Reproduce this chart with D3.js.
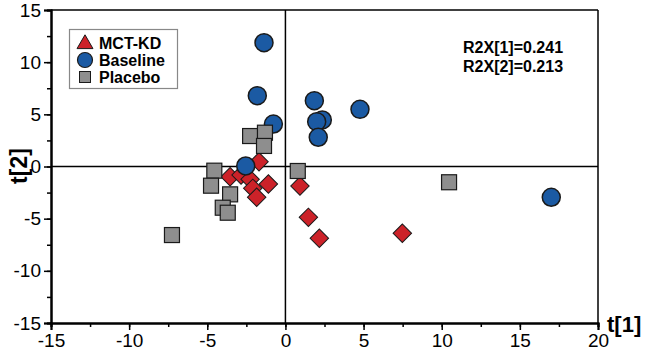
<!DOCTYPE html>
<html>
<head>
<meta charset="utf-8">
<script src="https://cdn.jsdelivr.net/npm/d3@7"></script>
<style>
  body { margin: 0; background: #fff; }
  svg { font-family: Arial, "Liberation Sans", sans-serif; }
</style>
</head>
<body>
<div id="okvir"></div>
<script>
// podaci ocitani sa slike (t[1], t[2])
const mctX = [-1.69, -3.54, -2.84, -2.26, -2.09, -1.84, -1.09, 0.93, 1.47, 2.17, 7.48]
const mctY = [0.46, -0.98, -0.81, -1.23, -2.09, -2.95, -1.68, -1.87, -4.87, -6.88, -6.40]

const baseX = [-1.37, -1.80, -0.77, 1.85, 4.77, 2.36, 2.00, 2.10, -2.54, 17.01]
const baseY = [11.87, 6.79, 4.07, 6.31, 5.48, 4.46, 4.30, 2.80, 0.05, -2.95]

const plaX = [-2.26, -1.31, -1.37, -4.55, -4.76, -3.54, -4.01, -3.69, 0.79, 10.47, -7.26]
const plaY = [2.92, 3.24, 1.97, -0.40, -1.84, -2.67, -3.95, -4.43, -0.43, -1.51, -6.57]

const xTicks = [-15, -10, -5, 0, 5, 10, 15, 20]
const yTicks = [-15, -10, -5, 0, 5, 10, 15]
const legendLabels = ["MCT-KD", "Baseline", "Placebo"]
const r2xLabels = ["R2X[1]=0.241", "R2X[2]=0.213"]

const dimenzije = {
  sirina: 645,
  visina: 355,
  margine: { top: 10, right: 47, bottom: 32, left: 51 },
}
dimenzije.grSirina = dimenzije.sirina - dimenzije.margine.left - dimenzije.margine.right
dimenzije.grVisina = dimenzije.visina - dimenzije.margine.top - dimenzije.margine.bottom

const okvir = d3.select("#okvir")
  .append("svg")
    .attr("width", dimenzije.sirina)
    .attr("height", dimenzije.visina)

const granice = okvir.append("g")
    .attr("transform", `translate(${dimenzije.margine.left},${dimenzije.margine.top})`)

const xSkala = d3.scaleLinear().domain([-15, 20]).range([0, dimenzije.grSirina])
const ySkala = d3.scaleLinear().domain([-15, 15]).range([dimenzije.grVisina, 0])

// okvir grafa (gornja i desna linija)
granice.append("line")
    .attr("x1", 0).attr("x2", dimenzije.grSirina)
    .attr("y1", 0).attr("y2", 0)
    .attr("stroke", "#000").attr("stroke-width", 1.5)
granice.append("line")
    .attr("x1", dimenzije.grSirina).attr("x2", dimenzije.grSirina)
    .attr("y1", 0).attr("y2", dimenzije.grVisina)
    .attr("stroke", "#000").attr("stroke-width", 1.5)

// nulte linije
granice.append("line")
    .attr("x1", 0).attr("x2", dimenzije.grSirina)
    .attr("y1", ySkala(0)).attr("y2", ySkala(0))
    .attr("stroke", "#000").attr("stroke-width", 1.5)
granice.append("line")
    .attr("x1", xSkala(0)).attr("x2", xSkala(0))
    .attr("y1", 0).attr("y2", dimenzije.grVisina)
    .attr("stroke", "#000").attr("stroke-width", 1.5)

// osi - glavne i pomocne oznake
const xMinor = d3.range(-15, 20.01, 2.5)
const yMinor = d3.range(-15, 15.01, 2.5)

const xOs = granice.append("g")
    .attr("transform", `translate(0,${dimenzije.grVisina})`)
xOs.call(d3.axisBottom(xSkala).tickValues(xMinor).tickSize(4).tickFormat(""))
xOs.append("g").call(d3.axisBottom(xSkala).tickValues(xTicks).tickSize(7).tickPadding(4)
    .tickFormat(d => d < 0 ? "-" + Math.abs(d) : d))

const yOs = granice.append("g")
yOs.call(d3.axisLeft(ySkala).tickValues(yMinor).tickSize(4).tickFormat(""))
yOs.append("g").call(d3.axisLeft(ySkala).tickValues(yTicks).tickSize(7).tickPadding(3)
    .tickFormat(d => d < 0 ? "-" + Math.abs(d) : d))

granice.selectAll(".domain").attr("stroke", "#000").attr("stroke-width", 2)
granice.selectAll(".tick line").attr("stroke", "#000").attr("stroke-width", 1.5)
granice.selectAll(".tick text")
    .attr("fill", "#000")
    .style("font-size", "19px")
    .style("font-family", "Arial, 'Liberation Sans', sans-serif")

// oznake osi
okvir.append("text")
    .attr("x", 607).attr("y", 332)
    .style("font-size", "22px").style("font-weight", "bold")
    .text("t[1]")
okvir.append("text")
    .attr("transform", "translate(27,166) rotate(-90)")
    .attr("text-anchor", "middle")
    .style("font-size", "23px").style("font-weight", "bold")
    .text("t[2]")

// tocke
const boje = { mct: "#cc2229", base: "#1b5aa3", pla: "#8e8e8e" }
const rub = "#1a1a1a"

const mctPodaci = d3.zip(mctX, mctY)
const basePodaci = d3.zip(baseX, baseY)
const plaPodaci = d3.zip(plaX, plaY)

const dijamant = d3.symbol().type(d3.symbolSquare).size(170)

granice.append("g").selectAll("path")
  .data(mctPodaci)
  .join("path")
    .attr("d", dijamant)
    .attr("transform", d => `translate(${xSkala(d[0])},${ySkala(d[1])}) rotate(45)`)
    .attr("fill", boje.mct).attr("stroke", rub).attr("stroke-width", 1)

granice.append("g").selectAll("circle")
  .data(basePodaci)
  .join("circle")
    .attr("cx", d => xSkala(d[0]))
    .attr("cy", d => ySkala(d[1]))
    .attr("r", 9)
    .attr("fill", boje.base).attr("stroke", rub).attr("stroke-width", 1.5)

granice.append("g").selectAll("rect")
  .data(plaPodaci)
  .join("rect")
    .attr("x", d => xSkala(d[0]) - 7.5)
    .attr("y", d => ySkala(d[1]) - 7.5)
    .attr("width", 15).attr("height", 15)
    .attr("fill", boje.pla).attr("stroke", rub).attr("stroke-width", 1.2)

// legenda
const legenda = okvir.append("g")
legenda.append("rect")
    .attr("x", 69.5).attr("y", 29.5)
    .attr("width", 108).attr("height", 59)
    .attr("fill", "#fff").attr("stroke", "#888").attr("stroke-width", 1.2)

const lr = legenda.selectAll("g.stavka")
  .data(legendLabels)
  .join("g")
    .attr("class", "stavka")
    .attr("transform", (d, i) => `translate(85,${43 + i * 17})`)

lr.filter((d, i) => i === 0).append("path")
    .attr("d", d3.symbol().type(d3.symbolTriangle).size(110))
    .attr("transform", "translate(0,1)")
    .attr("fill", boje.mct).attr("stroke", rub)
lr.filter((d, i) => i === 1).append("circle")
    .attr("r", 7.5)
    .attr("fill", boje.base).attr("stroke", rub).attr("stroke-width", 1.2)
lr.filter((d, i) => i === 2).append("rect")
    .attr("x", -5.5).attr("y", -5.5).attr("width", 11).attr("height", 11)
    .attr("fill", boje.pla).attr("stroke", rub)

lr.append("text")
    .attr("x", 14).attr("y", 6)
    .style("font-size", "16px").style("font-weight", "bold")
    .text(d => d)

// R2X tekst
okvir.append("g").selectAll("text")
  .data(r2xLabels)
  .join("text")
    .attr("x", 463)
    .attr("y", (d, i) => 53 + i * 19)
    .style("font-size", "16px").style("font-weight", "bold")
    .text(d => d)
</script>
</body>
</html>
